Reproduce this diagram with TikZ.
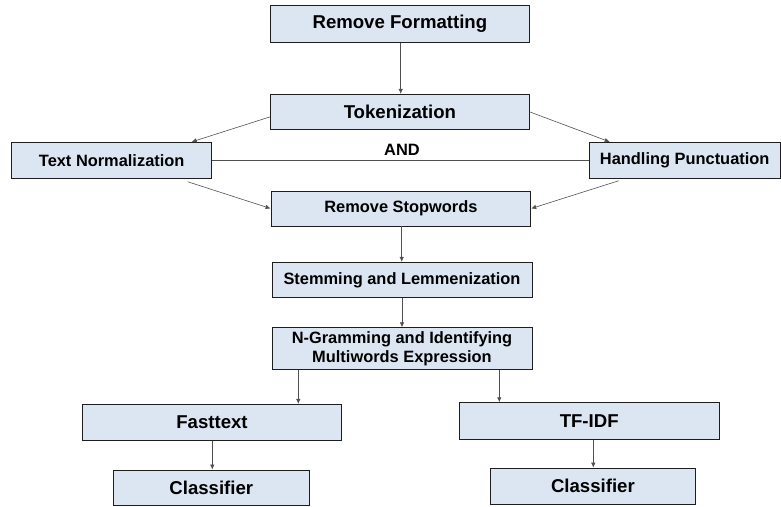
\documentclass[tikz,border=0pt]{standalone}
\usepackage{fontspec}
\setmainfont{Liberation Sans}
\usetikzlibrary{arrows.meta}
\definecolor{boxfill}{RGB}{220,230,242}
\definecolor{edgecol}{RGB}{30,30,30}
\definecolor{linecol}{RGB}{80,80,80}
\begin{document}
\begin{tikzpicture}[x=1pt,y=-1pt,
  box/.style={draw=edgecol,line width=0.9pt,fill=boxfill,inner sep=0pt,align=center,font=\bfseries},
  big/.style={font=\fontsize{18.6}{22}\selectfont\bfseries},
  mid/.style={font=\fontsize{16.4}{19}\selectfont\bfseries},
  arr/.style={draw=linecol,line width=0.6pt,-{Latex[length=5pt,width=4.5pt]}},
  plain/.style={draw=linecol,line width=0.6pt}]
\useasboundingbox (0,0) rectangle (781,506);
\node[box,big,minimum width=258.3pt,minimum height=36.6pt] (rf) at (399.9,24) {Remove Formatting};
\node[box,big,minimum width=258.3pt,minimum height=35pt] (tok) at (399.9,111.8) {Tokenization};
\node[box,mid,minimum width=200pt,minimum height=36pt] (tn) at (111.7,160.3) {Text Normalization};
\node[box,mid,minimum width=190.7pt,minimum height=36pt] (hp) at (684.7,160.3) {Handling Punctuation};
\node[mid] (and) at (402,149.5) {AND};
\node[box,mid,minimum width=259.7pt,minimum height=35pt] (rs) at (400.9,208.5) {Remove Stopwords};
\node[box,mid,minimum width=260pt,minimum height=35pt] (stem) at (402,279.8) {Stemming and Lemmenization};
\node[box,mid,minimum width=260pt,minimum height=41.6pt] (ng) at (402,348.5) {N-Gramming and Identifying\\Multiwords Expression};
\node[box,big,minimum width=259.4pt,minimum height=36pt] (ft) at (212,422.3) {Fasttext};
\node[box,big,minimum width=196pt,minimum height=35pt] (cl1) at (211.3,487.5) {Classifier};
\node[box,big,minimum width=259.7pt,minimum height=36.6pt] (tf) at (589.2,421) {TF-IDF};
\node[box,big,minimum width=205.7pt,minimum height=36.3pt] (cl2) at (592.9,486.2) {Classifier};

\draw[arr] ([xshift=0.8pt]rf.south) -- ([xshift=0.8pt]rf.south |- tok.north);
\draw[arr] ([yshift=-5pt]tok.west) -- ([xshift=80pt]tn.north);
\draw[arr] (tok.east) -- ([xshift=-75pt]hp.north);
\draw[plain] (tn.east) -- (hp.west);
\draw[arr] ([xshift=76pt,yshift=-3pt]tn.south) -- (rs.west);
\draw[arr] ([xshift=-66pt,yshift=-2pt]hp.south) -- (rs.east);
\draw[arr] ([xshift=0.8pt]rs.south) -- ([xshift=0.8pt]rs.south |- stem.north);
\draw[arr] (stem.south) -- (stem.south |- ng.north);
\draw[arr] ([xshift=-103.7pt]ng.south) -- ([xshift=-103.7pt]ng.south |- ft.north);
\draw[arr] ([xshift=97.3pt]ng.south) -- ([xshift=97.3pt]ng.south |- tf.north);
\draw[arr] ([xshift=0.3pt]ft.south) -- ([xshift=0.3pt]ft.south |- cl1.north);
\draw[arr] ([xshift=4.1pt]tf.south) -- ([xshift=4.1pt]tf.south |- cl2.north);
\end{tikzpicture}
\end{document}
